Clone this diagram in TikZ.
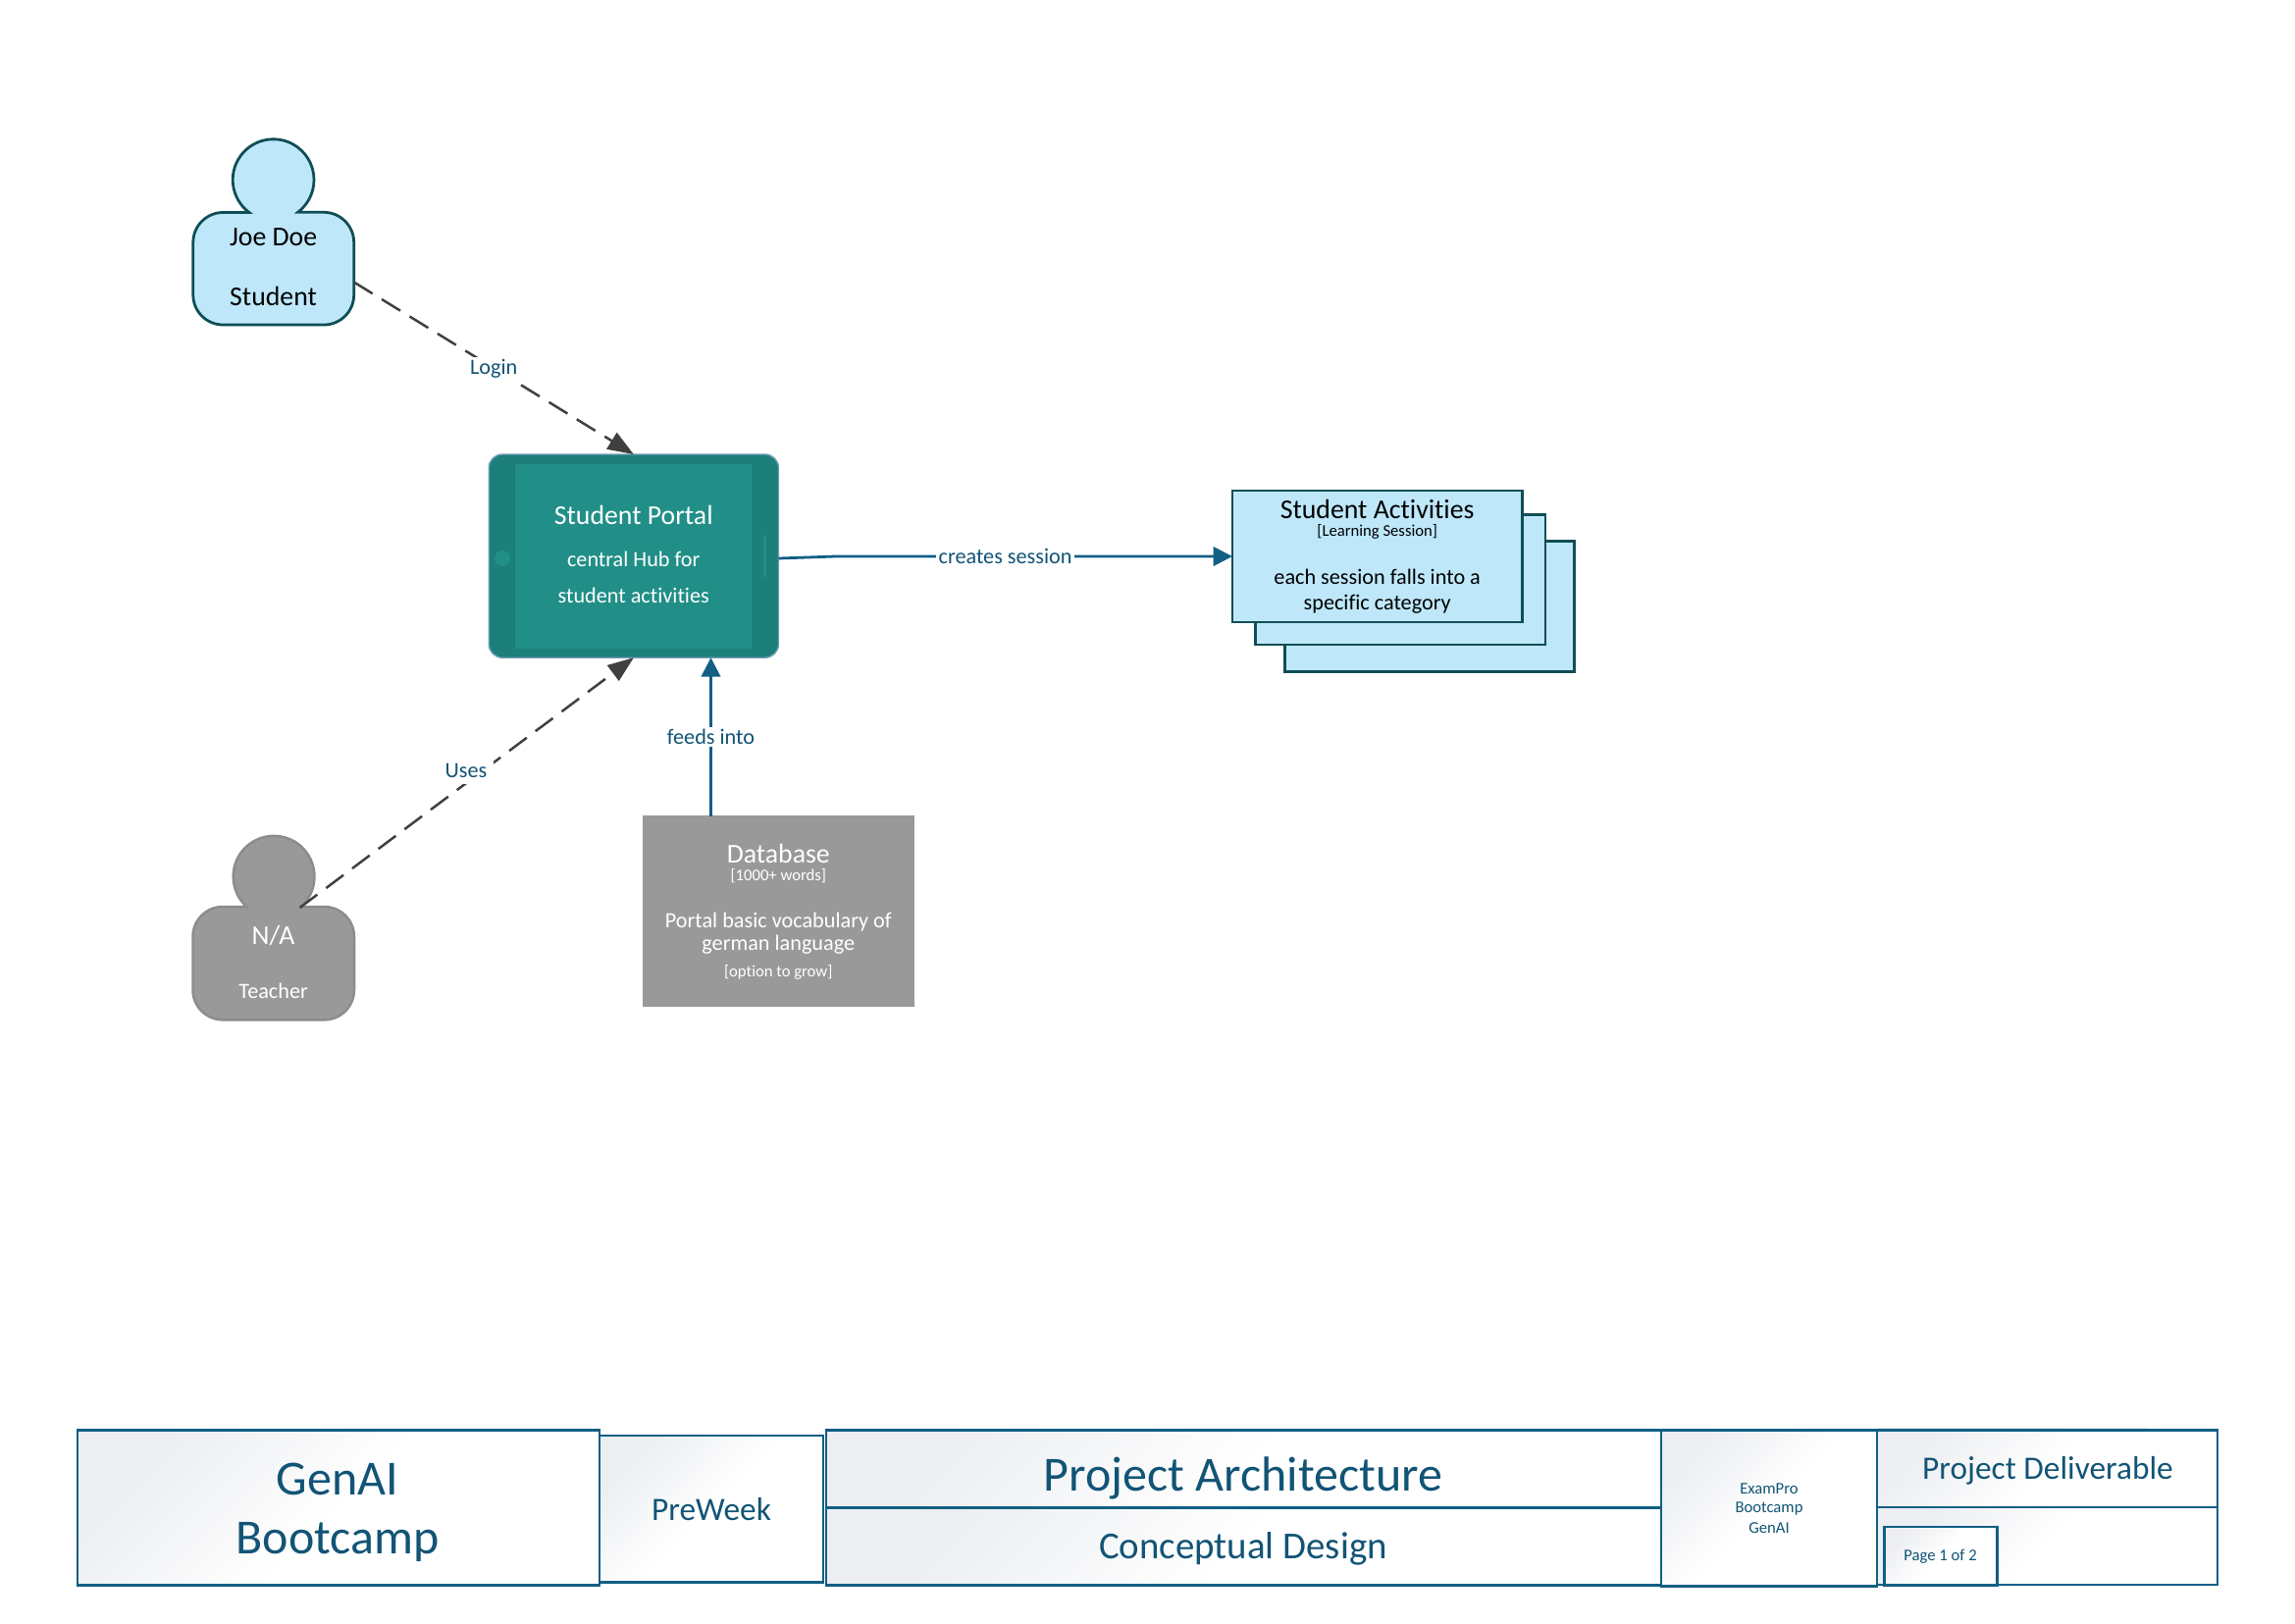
\documentclass[tikz,border=0pt]{standalone}
\usepackage{fontspec}
\setmainfont{Carlito}[Ligatures=NoCommon]
\usetikzlibrary{arrows.meta,fit}

\definecolor{lightblue}{RGB}{190,232,250}
\definecolor{darkteal}{RGB}{15,78,84}
\definecolor{portalouter}{RGB}{29,127,122}
\definecolor{portalinner}{RGB}{33,143,135}
\definecolor{linkblue}{RGB}{18,94,133}
\definecolor{textblue}{RGB}{18,84,118}
\definecolor{darkgrey}{RGB}{64,64,64}
\definecolor{midgrey}{RGB}{153,153,153}
\definecolor{footergrey}{RGB}{236,238,241}

\tikzset{
    box/.style={inner sep=0pt, outer sep=0pt},
    activitybox/.style={box, draw=darkteal, fill=lightblue, line width=1pt},
    footerbox/.style={box, draw=linkblue, line width=0.8pt, top color=footergrey, bottom color=white, middle color=white, shading angle=45},
    label/.style={inner sep=0pt, align=center, font=\fontsize{#1}{#1}\selectfont},
    footertext/.style={label=#1, text=textblue},
    edgetext/.style={label=8, text=textblue, fill=white, inner sep=0.8pt},
    flow/.style={draw=linkblue, line width=1pt, -{Stealth[inset=0pt, length=7pt, width=7pt]}},
    link/.style={draw=darkgrey, line width=0.9pt, dash pattern=on 8pt off 4pt, -{Stealth[inset=0pt, length=9.5pt, width=7pt]}},
}

\begin{document}
\begin{tikzpicture}[x=0.36pt, y=-0.36pt]
    \useasboundingbox (0,0) rectangle (2339,1654);

    % student
    \draw[fill=lightblue, draw=darkteal, line width=1pt] (254,216.5) arc[start angle=126.5, end angle=412.7, radius=41.4]
        [rounded corners=11pt] -- (360.7,216.5) -- (360.7,331) -- (196.8,331) -- (196.8,216.5) [sharp corners] -- cycle;
    \node[label=10] (joe) at (278.6,241.5) {Joe Doe};
    \node[label=10] (student) at (278.6,301.5) {Student};
    \coordinate (studentout) at (360.7,287.5);

    % teacher
    \draw[fill=midgrey, draw=black!45, line width=0.9pt] (251.4,924) arc[start angle=132, end angle=408, radius=41.4]
        [rounded corners=11pt] -- (361,924) -- (361,1039.3) -- (196.5,1039.3) -- (196.5,924) [sharp corners] -- cycle;
    \node[label=10, text=white] (na) at (278.6,953) {N/A};
    \node[label=8, text=white] (teacher) at (278.6,1010) {Teacher};
    \coordinate (teacherout) at (305.6,925);

    % portal
    \node[box, fit={(498.2,463) (793.5,670.2)}, draw=linkblue!60, fill=portalouter, rounded corners=5pt, line width=0.5pt] (portal) {};
    \node[box, fit={(525,472.5) (766,660.6)}, fill=portalinner] (screen) {};
    \node[box, circle, minimum size=5.8pt, fill=portalinner] (camera) at (512,569) {};
    \node[box, fit={(778.5,545.8) (780.5,588)}, fill=portalinner] (slot) {};
    \node[label=10, text=white] (portaltitle) at (645.75,525) {Student Portal};
    \node[label=8, text=white] (portalone) at (645.75,570) {central Hub for};
    \node[label=8, text=white] (portaltwo) at (645.75,607) {student activities};

    % activities
    \node[activitybox, fit={(1309.3,551.5) (1604.5,684.5)}] (backsheet) {};
    \node[activitybox, fit={(1279.2,524.5) (1575,657)}] (middlesheet) {};
    \node[activitybox, fit={(1256,500) (1551.8,634)}] (activities) {};
    \node[label=10] (activitytitle) at (1403.7,518.5) {Student Activities};
    \node[label=6] (activitytag) at (1403.7,541.5) {[Learning Session]};
    \node[label=8] (activityone) at (1403.7,588) {each session falls into a};
    \node[label=8] (activitytwo) at (1403.7,616) {specific category};

    % database
    \node[box, fit={(655.5,831.5) (931.2,1025.5)}, fill=midgrey, draw=black!40, line width=0.7pt] (database) {};
    \node[label=10, text=white] (dbtitle) at (793.3,869.5) {Database};
    \node[label=6, text=white] (dbtag) at (793.3,892.5) {[1000+ words]};
    \node[label=8, text=white] (dbone) at (793.3,940) {Portal basic vocabulary of};
    \node[label=8, text=white] (dbtwo) at (793.3,963) {german language};
    \node[label=6, text=white] (dbnote) at (793.3,990.5) {[option to grow]};
    \coordinate (dbout) at (724.5,831.5);

    % connectors
    \draw[link] (studentout) -- node[edgetext, yshift=-0.3pt] (login) {Login} (portal.north);
    \draw[link] (teacherout) -- (portal.south);
    \node[edgetext, inner sep=2.5pt] (uses) at (475,785) {Uses};
    \draw[flow] (dbout) -- node[edgetext] (feeds) {feeds into} (dbout |- portal.south);
    \coordinate (portalout) at (793.5,569);
    \coordinate (bend) at (851.3,567);
    \draw[flow] (portalout) -- (bend) -- (bend -| activities.west);
    \node[edgetext] (creates) at (1024.6,567) {creates session};

    % footer
    \begin{scope}[yshift=-0.5pt]
    \node[footerbox, fit={(79,1456) (610.7,1614)}] (course) {};
    \node[footertext=18] (courseone) at (344,1506.5) {GenAI};
    \node[footertext=18] (coursetwo) at (344,1570) {Bootcamp};
    \node[footerbox, fit={(610.7,1461.7) (838.7,1611)}] (week) {};
    \node[footertext=12] (weektext) at (725,1536.5) {PreWeek};
    \node[footerbox, fit={(842.2,1456) (1693,1535)}] (project) {};
    \node[footertext=18] (projecttext) at (1267,1505.5) {Project Architecture};
    \node[footerbox, fit={(842.2,1535) (1693,1614)}] (design) {};
    \node[footertext=14] (designtext) at (1267,1577) {Conceptual Design};
    \node[footerbox, fit={(1693,1456) (1913,1615)}] (exampro) {};
    \node[footertext=6] (examone) at (1803,1516) {ExamPro};
    \node[footertext=6] (examtwo) at (1803,1536) {Bootcamp};
    \node[footertext=6] (examthree) at (1803,1556) {GenAI};
    \node[footerbox, fit={(1913,1456) (2260,1534.3)}] (deliverable) {};
    \node[footertext=12] (deliverabletext) at (2087,1497.5) {Project Deliverable};
    \node[footerbox, fit={(1913,1534.3) (2260,1613.3)}] (pagerow) {};
    \node[footerbox, fit={(1920.4,1554.7) (2035.5,1614)}] (pagebox) {};
    \node[footertext=6] (pagetext) at (1977.6,1585) {Page 1 of 2};
    \coordinate (deliverableend) at (2189.6,1456);
    \draw[draw=linkblue, line width=1.1pt] (deliverable.north west) -- (deliverableend);
    \end{scope}
\end{tikzpicture}
\end{document}
